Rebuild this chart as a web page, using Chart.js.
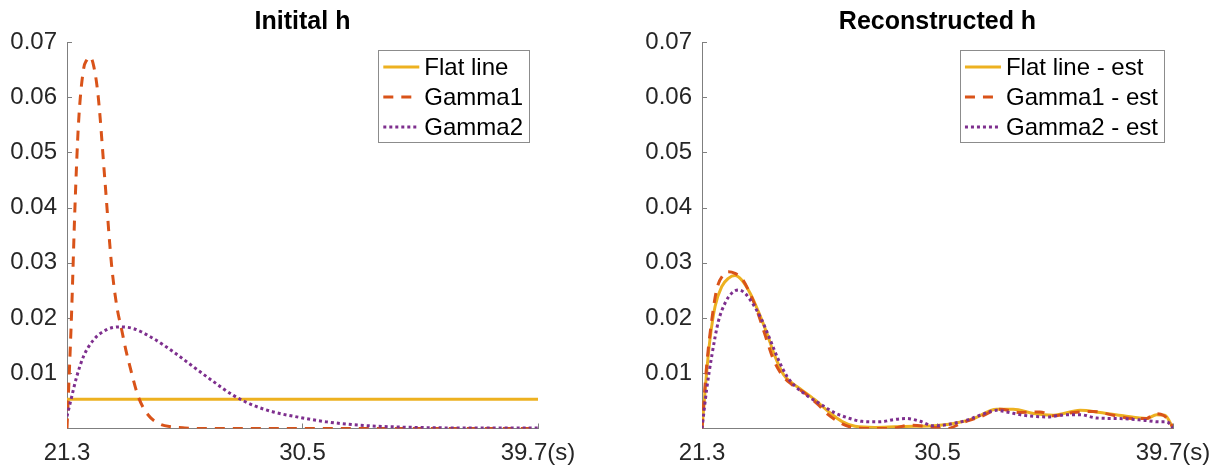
<!DOCTYPE html>
<html>
<head>
<meta charset="utf-8">
<title>Initital h / Reconstructed h</title>
<script src="https://cdn.jsdelivr.net/npm/chart.js@4.4.1/dist/chart.umd.min.js"></script>
<style>
    html, body { margin: 0; padding: 0; background: #fff; }
    #wrap { position: relative; width: 1227px; height: 465px; overflow: hidden; }
    canvas { position: absolute; top: 0; }
    #left { left: 0; }
    #right { left: 613px; }
</style>
</head>
<body>
<div id="wrap">
    <canvas id="left" width="613" height="465"></canvas>
    <canvas id="right" width="614" height="465"></canvas>
</div>
<script>
'use strict'

// ---------------------------------------------------------------------------
// DATA
// ---------------------------------------------------------------------------

const X_TICKS = [21.3, 30.5, 39.7]
const X_TICK_LABELS = ['21.3', '30.5', '39.7(s)']
const Y_TICKS = [0.01, 0.02, 0.03, 0.04, 0.05, 0.06, 0.07]
const Y_TICK_LABELS = ['0.01', '0.02', '0.03', '0.04', '0.05', '0.06', '0.07']

const LEFT_LABELS = ['Flat line', 'Gamma1', 'Gamma2']
const RIGHT_LABELS = ['Flat line - est', 'Gamma1 - est', 'Gamma2 - est']

// Initital h
const flatTime = [21.3, 39.7]
const flatVals = [0.0053, 0.0053]

const gamma1Time = [21.3, 21.38, 21.48, 21.61, 21.75, 21.94, 22.08, 22.2, 22.35, 22.52, 22.78, 23.04,
    23.25, 23.44, 23.6, 23.76, 24.09, 24.48, 24.93, 25.4, 25.9, 26.5, 39.7]
const gamma1Vals = [0, 0.009, 0.021, 0.040, 0.0553, 0.0649, 0.0668, 0.0673, 0.0655, 0.0601, 0.045, 0.0297,
    0.022, 0.0178, 0.0142, 0.0112, 0.0057, 0.0024, 0.0008, 0.0003, 0.0001, 0, 0]

const gamma2Time = [21.3, 21.48, 21.68, 21.94, 22.33, 22.85, 23.37, 23.89, 24.67, 25.45, 26.23, 27.02,
    27.8, 28.58, 29.36, 30.4, 31.44, 32.74, 34.05, 36.65, 39.7]
const gamma2Vals = [0.0022, 0.0057, 0.0094, 0.013, 0.016, 0.0179, 0.0184, 0.0181, 0.0163, 0.0139, 0.0112, 0.0085,
    0.006, 0.0042, 0.003, 0.002, 0.0012, 0.0006, 0.0003, 0.0001, 0.0001]

// Reconstructed h
const flatEstTime = [21.3, 21.48, 21.61, 21.81, 22.07, 22.33, 22.59, 22.85, 23.18, 23.5, 23.83, 24.15,
    24.48, 24.8, 25.19, 25.71, 26.23, 26.76, 27.28, 28.06, 28.84, 29.6, 30.34, 31.12, 31.9, 32.81,
    33.46, 34.25, 35.03, 36.07, 36.85, 37.76, 38.67, 39.06, 39.38, 39.7]
const flatEstVals = [0, 0.0101, 0.0161, 0.0221, 0.0257, 0.0272, 0.0277, 0.0269, 0.0245, 0.0212, 0.0173, 0.0131,
    0.0098, 0.0083, 0.007, 0.0052, 0.0031, 0.0013, 0.0004, 0.0002, 0.0003, 0.0004, 0.0005, 0.0009, 0.0018, 0.0035,
    0.0035, 0.0027, 0.0024, 0.0033, 0.0029, 0.0023, 0.0018, 0.0025, 0.0024, 0.0001]

const gamma1EstTime = [21.3, 21.48, 21.65, 21.87, 22.13, 22.33, 22.59, 22.85, 23.11, 23.44, 23.76, 24.09,
    24.41, 24.8, 25.32, 25.84, 26.23, 26.76, 27.28, 28.06, 28.64, 29.42, 30.21, 30.86, 31.51, 32.16,
    32.94, 33.72, 34.5, 35.03, 35.81, 36.59, 37.37, 38.15, 38.67, 38.99, 39.32, 39.58, 39.7]
const gamma1EstVals = [0, 0.0113, 0.0185, 0.0251, 0.0278, 0.0284, 0.0281, 0.0272, 0.0251, 0.0215, 0.017, 0.0125,
    0.0098, 0.008, 0.0064, 0.0043, 0.0025, 0.0009, 0.0001, 0, 0, 0.0006, 0.0003, 0, 0.0011, 0.0021,
    0.0035, 0.0029, 0.003, 0.0023, 0.0029, 0.0031, 0.0024, 0.0018, 0.0018, 0.0027, 0.0024, 0.0012, 0.0001]

const gamma2EstTime = [21.3, 21.48, 21.68, 21.94, 22.2, 22.46, 22.72, 22.98, 23.31, 23.63, 23.96, 24.28,
    24.61, 24.93, 25.45, 25.97, 26.5, 27.02, 27.54, 28.25, 28.77, 29.29, 29.82, 30.34, 30.86, 31.64,
    32.16, 32.81, 33.2, 33.85, 34.77, 35.55, 36.07, 36.72, 37.63, 38.54, 39.2, 39.46, 39.7]
const gamma2EstVals = [0, 0.007, 0.0131, 0.0194, 0.0227, 0.0245, 0.0251, 0.0245, 0.0224, 0.0197, 0.0161, 0.0125,
    0.0095, 0.0077, 0.0058, 0.0043, 0.0028, 0.0019, 0.0013, 0.0012, 0.0016, 0.0018, 0.0013, 0.0005, 0.0007, 0.0015,
    0.0024, 0.0033, 0.003, 0.0024, 0.0021, 0.0025, 0.0025, 0.0019, 0.0018, 0.0015, 0.0012, 0.0012, 0.0001]

// ---------------------------------------------------------------------------
// STYLE
// ---------------------------------------------------------------------------

const FONT = '"Liberation Sans", Arial, Helvetica, sans-serif'
const COLOR_FLAT = '#EDB120'
const COLOR_GAMMA1 = '#D95319'
const COLOR_GAMMA2 = '#7E2F8E'
const AXIS_COLOR = '#7f7f7f'
const TEXT_COLOR = '#262626'
const DASH = [10, 8]
const DOT = [3, 3]
const TICK_LEN = 5

// ---------------------------------------------------------------------------
// HELPERS
// ---------------------------------------------------------------------------

function points(xs, ys) {
    return xs.map((x, i) => ({ x, y: ys[i] }))
}

function makeDataset(label, xs, ys, color, dash, order) {
    return {
        label,
        data: points(xs, ys),
        borderColor: color,
        backgroundColor: color,
        borderWidth: 3,
        borderDash: dash,
        borderCapStyle: 'butt',
        pointRadius: 0,
        fill: false,
        cubicInterpolationMode: 'monotone',
        order,
    }
}

// inward ticks + boxed legend in the top right corner, matlab style
const matlabAxes = {
    id: 'matlabAxes',
    beforeDatasetsDraw(chart) {
        const { ctx, chartArea, scales } = chart
        ctx.save()
        ctx.strokeStyle = AXIS_COLOR
        ctx.lineWidth = 1
        ctx.beginPath()
        for (const v of Y_TICKS) {
            const y = Math.round(scales.y.getPixelForValue(v)) + 0.5
            ctx.moveTo(chartArea.left, y)
            ctx.lineTo(chartArea.left + TICK_LEN, y)
        }
        for (const v of X_TICKS) {
            const x = Math.round(scales.x.getPixelForValue(v)) + 0.5
            ctx.moveTo(x, chartArea.bottom)
            ctx.lineTo(x, chartArea.bottom - TICK_LEN)
        }
        ctx.stroke()
        ctx.restore()
    },
    afterDraw(chart, args, opts) {
        const { ctx, chartArea } = chart
        const items = chart.data.datasets
        ctx.save()
        ctx.font = `${opts.fontSize}px ${FONT}`
        const textW = Math.max(...items.map(d => ctx.measureText(d.label).width))
        const w = 46 + textW + 6
        const h = 92
        const right = chartArea.right - opts.inset
        const left = right - w
        const top = opts.top
        ctx.fillStyle = '#fff'
        ctx.fillRect(left, top, w, h)
        ctx.strokeStyle = '#8c8c8c'
        ctx.lineWidth = 1
        ctx.strokeRect(Math.round(left) + 0.5, top + 0.5, Math.round(w), h)
        items.forEach((d, i) => {
            const y = top + 17 + i * 30
            ctx.beginPath()
            ctx.setLineDash(d.borderDash || [])
            ctx.lineCap = 'butt'
            ctx.strokeStyle = d.borderColor
            ctx.lineWidth = 3
            ctx.moveTo(left + 5, y)
            ctx.lineTo(left + 41, y)
            ctx.stroke()
            ctx.setLineDash([])
            ctx.fillStyle = '#000'
            ctx.textAlign = 'left'
            ctx.textBaseline = 'middle'
            ctx.fillText(d.label, left + 46, y + 1)
        })
        ctx.restore()
    },
}

function buildChart(canvasId, title, datasets, yAxisWidth, padRight) {
    const tickFont = { family: FONT, size: 24 }
    return new Chart(document.getElementById(canvasId), {
        type: 'line',
        data: { datasets },
        options: {
            responsive: false,
            animation: false,
            events: [],
            layout: { padding: { left: 0, right: padRight, top: 0, bottom: 0 } },
            plugins: {
                legend: { display: false },
                tooltip: { enabled: false },
                title: {
                    display: true,
                    text: title,
                    fullSize: false,
                    color: '#000',
                    font: { family: FONT, size: 25, weight: 'bold' },
                    padding: { top: 7, bottom: 5 },
                },
                matlabAxes: { inset: 9, top: 50, fontSize: 24 },
            },
            scales: {
                x: {
                    type: 'linear',
                    min: 21.3,
                    max: 39.7,
                    afterBuildTicks: s => { s.ticks = X_TICKS.map(v => ({ value: v })) },
                    afterFit: s => { s.height = 36.5 },
                    ticks: {
                        callback: (v, i) => X_TICK_LABELS[i],
                        font: tickFont,
                        color: TEXT_COLOR,
                        padding: 10,
                        maxRotation: 0,
                        autoSkip: false,
                    },
                    grid: { display: false, drawTicks: false },
                    border: { display: true, color: AXIS_COLOR, width: 1 },
                },
                y: {
                    type: 'linear',
                    min: 0,
                    max: 0.07,
                    afterBuildTicks: s => { s.ticks = Y_TICKS.map(v => ({ value: v })) },
                    afterFit: s => { s.width = yAxisWidth },
                    ticks: {
                        callback: (v, i) => Y_TICK_LABELS[i],
                        font: tickFont,
                        color: TEXT_COLOR,
                        padding: 10,
                        autoSkip: false,
                    },
                    grid: { display: false, drawTicks: false },
                    border: { display: true, color: AXIS_COLOR, width: 1 },
                },
            },
        },
        plugins: [matlabAxes],
    })
}

// ---------------------------------------------------------------------------
// RENDER
// ---------------------------------------------------------------------------

buildChart('left', 'Initital h', [
    makeDataset(LEFT_LABELS[0], flatTime, flatVals, COLOR_FLAT, [], 3),
    makeDataset(LEFT_LABELS[1], gamma1Time, gamma1Vals, COLOR_GAMMA1, DASH, 2),
    makeDataset(LEFT_LABELS[2], gamma2Time, gamma2Vals, COLOR_GAMMA2, DOT, 1),
], 67, 75)

buildChart('right', 'Reconstructed h', [
    makeDataset(RIGHT_LABELS[0], flatEstTime, flatEstVals, COLOR_FLAT, [], 3),
    makeDataset(RIGHT_LABELS[1], gamma1EstTime, gamma1EstVals, COLOR_GAMMA1, DASH, 2),
    makeDataset(RIGHT_LABELS[2], gamma2EstTime, gamma2EstVals, COLOR_GAMMA2, DOT, 1),
], 89, 54)
</script>
</body>
</html>
